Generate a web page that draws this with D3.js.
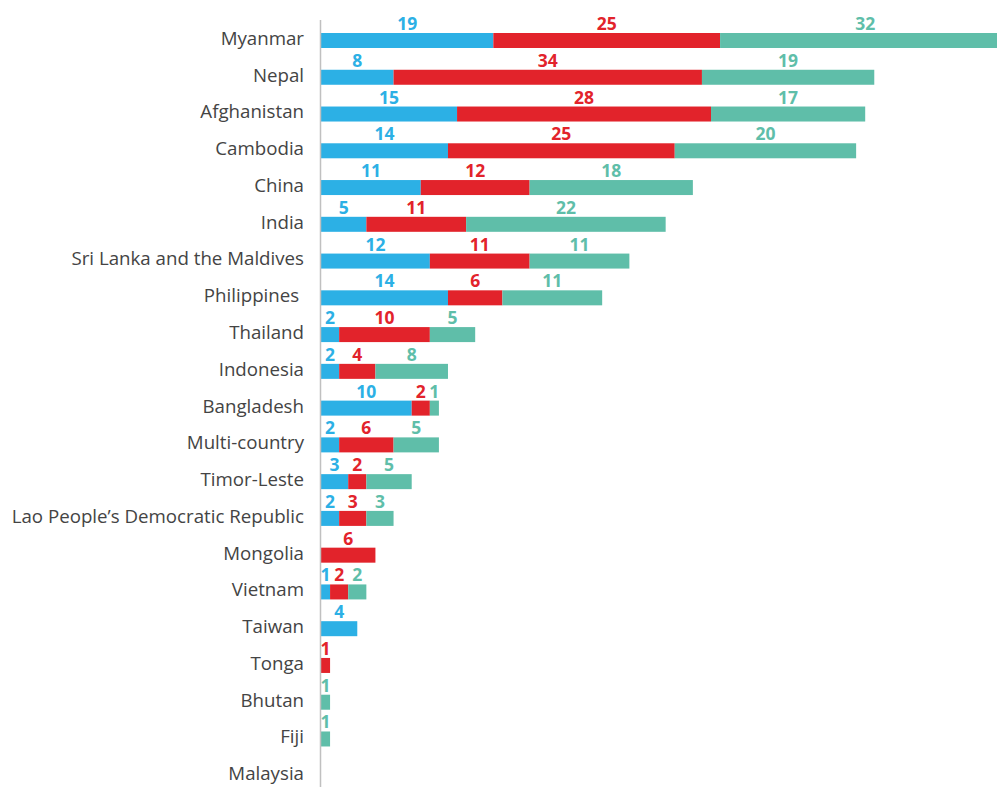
<!DOCTYPE html>
<html>
<head>
<meta charset="utf-8">
<script src="https://cdn.jsdelivr.net/npm/d3@7"></script>
<style>
  html, body { margin: 0; padding: 0; background: #fff; overflow: hidden; }
  svg { display: block; }
</style>
</head>
<body>
<div id="chart"></div>
<script>
var countries = ['Myanmar', 'Nepal', 'Afghanistan', 'Cambodia', 'China', 'India',
  'Sri Lanka and the Maldives', 'Philippines\u00a0', 'Thailand', 'Indonesia', 'Bangladesh',
  'Multi-country', 'Timor-Leste', 'Lao People\u2019s Democratic Republic', 'Mongolia',
  'Vietnam', 'Taiwan', 'Tonga', 'Bhutan', 'Fiji', 'Malaysia'];
var blueVals  = [19, 8, 15, 14, 11, 5, 12, 14, 2, 2, 10, 2, 3, 2, 0, 1, 4, 0, 0, 0, 0];
var redVals   = [25, 34, 28, 25, 12, 11, 11, 6, 10, 4, 2, 6, 2, 3, 6, 2, 0, 1, 0, 0, 0];
var greenVals = [32, 19, 17, 20, 18, 22, 11, 11, 5, 8, 1, 5, 5, 3, 0, 2, 0, 0, 1, 1, 0];

var seriesVals = [blueVals, redVals, greenVals];
var colors = ['#2cb0e5', '#e2232b', '#5fbea9'];

var w = 997;
var h = 787;

var svg = d3.select('#chart')
  .append('svg')
  .attr('width', w)
  .attr('height', h);

var x = d3.scaleLinear().domain([0, 80]).range([321, 321 + 9.07 * 80]);
var y = d3.scaleBand().domain(countries).range([22, 794]);

var barH = 15;
var barOff = 11;

// build stacked segments
var segs = [];
countries.forEach(function (c, i) {
  var start = 0;
  seriesVals.forEach(function (vals, s) {
    var v = vals[i];
    if (v > 0) {
      segs.push({ country: c, s: s, x0: start, x1: start + v, v: v });
    }
    start += v;
  });
});

svg.selectAll('rect.bar')
  .data(segs)
  .enter()
  .append('rect')
  .attr('class', 'bar')
  .attr('x', function (d) { return x(d.x0); })
  .attr('y', function (d) { return y(d.country) + barOff; })
  .attr('width', function (d) { return x(d.x1) - x(d.x0); })
  .attr('height', barH)
  .attr('fill', function (d) { return colors[d.s]; });

// value labels above segments
svg.selectAll('text.value')
  .data(segs)
  .enter()
  .append('text')
  .attr('class', 'value')
  .text(function (d) { return d.v; })
  .attr('x', function (d) { return (x(d.x0) + x(d.x1)) / 2; })
  .attr('y', function (d) { return y(d.country) + barOff - 3; })
  .attr('text-anchor', 'middle')
  .attr('font-family', 'Open Sans, sans-serif')
  .attr('font-weight', 'bold')
  .attr('font-size', '17.5px')
  .attr('fill', function (d) { return colors[d.s]; });

// country labels
svg.selectAll('text.cat')
  .data(countries)
  .enter()
  .append('text')
  .attr('class', 'cat')
  .text(function (d) { return d; })
  .attr('x', 304)
  .attr('y', function (d) { return y(d) + y.bandwidth() / 2 - 2; })
  .attr('dy', '0.35em')
  .attr('text-anchor', 'end')
  .attr('font-family', 'Open Sans, sans-serif')
  .attr('font-size', '18.7px')
  .attr('fill', '#444');

// axis line
svg.append('line')
  .attr('x1', x(0) - 0.5)
  .attr('x2', x(0) - 0.5)
  .attr('y1', 20)
  .attr('y2', h)
  .attr('stroke', '#c0c0c0')
  .attr('stroke-width', 1.5);
</script>
</body>
</html>
